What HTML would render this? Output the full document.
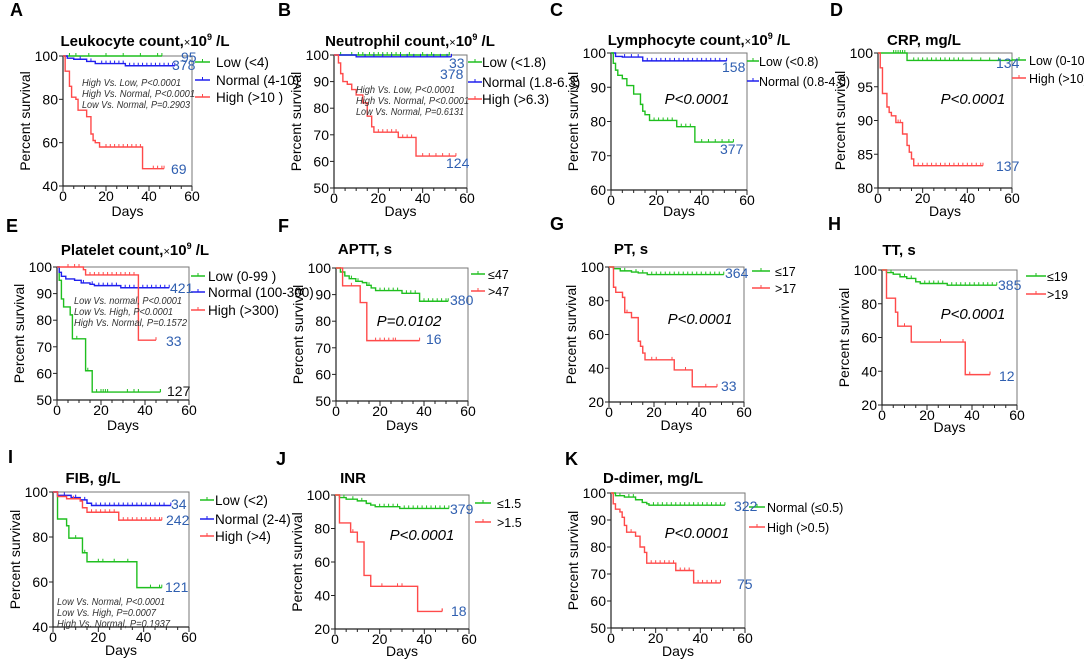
<!DOCTYPE html>
<html><head><meta charset="utf-8"><title>Kaplan-Meier survival curves</title>
<style>
html,body{margin:0;padding:0;background:#fff;}
svg{display:block;font-family:"Liberation Sans",Arial,sans-serif;}
</style></head>
<body>
<svg id="fig" width="1084" height="659" viewBox="0 0 1084 659" xmlns="http://www.w3.org/2000/svg"></svg>
<script>
// ===== DATA (time points, survival %, last follow-up, censor times) =====
const A_low_t=[0], A_low_s=[100], A_low_end=46, A_low_c=[3,6,12,20,28,36,44];
const A_norm_t=[0,2,5,11,15,29], A_norm_s=[100,99,98.5,97.5,96.5,95.5], A_norm_end=52, A_norm_c=[8,13,18,20,22,24,26,28,31,33,35,37,39,41,43,45,47,49,51];
const A_high_t=[0,1,3,4,6,7,11,13,14,15,17,37], A_high_s=[100,93,86,81,80,75,72,64,61,60,58,48], A_high_end=47, A_high_c=[20,22,24,26,28,30,32,34,36,42,44,46];

const B_low_t=[0], B_low_s=[100], B_low_end=52, B_low_c=[3,8,11,13,16,18,20,22,24,26,28,30,34,40,44];
const B_norm_t=[0,10], B_norm_s=[100,99.3], B_norm_end=53, B_norm_c=[14,18,22,26,30,33,36,39,42,45,48,51];
const B_high_t=[0,2,3,4,6,8,10,13,15,17,18,29,37], B_high_s=[100,97,93,90,89,87,85,82,77,73,71,69,62], B_high_end=55, B_high_c=[20,22,24,26,28,31,33,35,40,43,46,49,52];

const C_norm_t=[0,2,5,14], C_norm_s=[100,99,98.8,97.7], C_norm_end=51, C_norm_c=[6,9,12,16,18,20,22,24,26,28,30,32,34,36,38,40,42,44,46,48];
const C_low_t=[0,1,2,3,5,7,10,13,14,15,17,29,37], C_low_s=[100,97,95,93.5,92.5,90.5,88,85,83,82,80.3,78.5,74], C_low_end=54, C_low_c=[19,21,23,25,27,31,33,35,40,43,46,49,52];

const D_low_t=[0,13], D_low_s=[100,98.9], D_low_end=60, D_low_c=[7,8,9,10,11,12,16,18,20,22,24,26,28,30,32,34,36,38,42,46,50,54];
const D_high_t=[0,1,2,4,5,6,8,11,13,14,15,16], D_high_s=[100,97.8,94,92,91.2,90.7,89.7,88,86.3,85.3,84.3,83.3], D_high_end=47, D_high_c=[9,10,18,20,22,24,26,28,30,32,34,36,38,40,42,44,46];

const E_low_t=[0,1,2,3,6,7,13,16], E_low_s=[100,95,88,85,82,73,61,53], E_low_end=47, E_low_c=[9,14,18,20,21,22,23,32,35,37,47];
const E_norm_t=[0,1,2,4,8,11,15,17,29], E_norm_s=[100,98,96.5,95.5,95,94,93.5,93,92.2], E_norm_end=51, E_norm_c=[12,16,19,21,23,25,27,31,33,35,37,39,41,43,45,47,49];
const E_high_t=[0,12,13,37], E_high_s=[100,99,97,72.5], E_high_end=45, E_high_c=[5,8,10,15,17,19,21,23,25,27,29,31,33,35];

const F_low_t=[0,2,4,6,9,12,14,16,18,30,38], F_low_s=[100,98.5,97,96,95,94.5,93.5,92.5,91.5,90.5,87.5], F_low_end=51, F_low_c=[7,10,15,20,22,24,26,28,32,34,36,40,42,44,46,48,50];
const F_high_t=[0,3,11,14], F_high_s=[100,93.3,87,72.7], F_high_end=38, F_high_c=[7,11,18,20,22,24,26,27];

const G_low_t=[0,2,5,10,13,17], G_low_s=[100,99,97.7,97,96.5,95.5], G_low_end=51, G_low_c=[7,12,15,19,21,23,25,27,29,31,33,35,37,39,41,43,45,47,49];
const G_high_t=[0,2,3,6,7,10,13,14,15,16,29,37], G_high_s=[100,88,85,82,73,70,56,53,49,45,39,29], G_high_end=48, G_high_c=[8,19,21,28,34,43];

const H_low_t=[0,2,5,8,11,15,17,29], H_low_s=[100,98.5,97.5,96,95,93,92,91], H_low_end=51, H_low_c=[4,10,13,19,21,23,25,27,31,33,35,37,39,41,43,45,47,49];
const H_high_t=[0,2,6,7,13,37], H_high_s=[100,83.3,75,66.7,57.3,38], H_high_end=48, H_high_c=[10,26,36,39,48];

const I_low_t=[0,2,6,7,13,15,37], I_low_s=[100,88,85,79.5,73,69,57.5], I_low_end=48, I_low_c=[10,14,20,22,27,33,43,47];
const I_norm_t=[0,2,8,12,15,17], I_norm_s=[100,98.5,97.5,96.5,95,94], I_norm_end=52, I_norm_c=[5,10,14,19,21,23,25,27,29,31,33,35,37,39,41,43,45,47,49];
const I_high_t=[0,2,6,12,13,15,29], I_high_s=[100,98,97,96,93,91,87.5], I_high_end=48, I_high_c=[9,17,19,21,23,25,27,31,33,35,37,39,41,43,45,47];

const J_low_t=[0,2,5,10,14,16,18,29], J_low_s=[100,98.5,97.5,96.5,95,94,93,92], J_low_end=51, J_low_c=[4,8,12,20,22,24,26,28,31,33,35,37,39,41,43,45,47,49];
const J_high_t=[0,2,7,10,13,16,37], J_high_s=[100,83.3,77.8,72,52,45.5,30.5], J_high_end=48, J_high_c=[8,21,28,30,48];

const K_low_t=[0,2,6,11,14,16,17], K_low_s=[100,99,98.5,97.5,96.5,96,95.5], K_low_end=51, K_low_c=[4,8,10,19,21,23,25,27,29,31,33,35,37,39,41,43,45,47,49];
const K_high_t=[0,1,2,4,5,6,7,11,13,15,16,29,37], K_high_s=[100,96,94,93,91,88,85.5,84,80,78,74,71.3,66.7], K_high_end=49, K_high_c=[9,18,20,22,24,26,28,31,33,35,39,41,43,45,47];

// y-axis tick labels per panel
const yTicksA=[40,60,80,100], yTicksB=[50,60,70,80,90,100], yTicksC=[60,70,80,90,100], yTicksD=[80,85,90,95,100];
const yTicksE=[50,60,70,80,90,100], yTicksF=[50,60,70,80,90,100], yTicksG=[20,40,60,80,100], yTicksH=[20,40,60,80,100];
const yTicksI=[40,60,80,100], yTicksJ=[20,40,60,80,100], yTicksK=[50,60,70,80,90,100];
const xTicks=[0,20,40,60];

// ===== LAYOUT / STYLE =====
const GREEN='#1fbf1f', BLUE='#1f1fee', RED='#ff4a4a', NUMC='#2f5fb0';
const svg=document.getElementById('fig');
const NS='http://www.w3.org/2000/svg';
function mk(tag,attrs,parent){const e=document.createElementNS(NS,tag);for(const k in attrs)e.setAttribute(k,attrs[k]);(parent||svg).appendChild(e);return e;}
function txt(s,attrs,parent){const e=mk('text',attrs,parent);e.textContent=s;return e;}

const panels=[
 {id:'A',L:[10,16],x0:63,x1:192,yt:56,yb:186,ymin:40,ticks:yTicksA,title:'Leukocyte count,',tx:145,ty:46,days:216,
  series:[['low',GREEN,A_low_t,A_low_s,A_low_end,A_low_c],['normal',BLUE,A_norm_t,A_norm_s,A_norm_end,A_norm_c],['high',RED,A_high_t,A_high_s,A_high_end,A_high_c]],
  leg:{x:195,len:15,tx:216,ys:[62,80,97],labels:['Low (<4)','Normal  (4-10)','High (>10 )']},
  nums:[['95',181,62,NUMC],['378',172,70,NUMC],['69',171,174,NUMC]],
  stats:{x:82,ys:[86,97,108],lines:['High Vs. Low, P<0.0001','High Vs. Normal, P<0.0001','Low Vs. Normal, P=0.2903']}},
 {id:'B',L:[278,16],x0:334,x1:467,yt:55,yb:188,ymin:50,ticks:yTicksB,title:'Neutrophil count,',tx:410,ty:46,days:216,
  series:[['low',GREEN,B_low_t,B_low_s,B_low_end,B_low_c],['normal',BLUE,B_norm_t,B_norm_s,B_norm_end,B_norm_c],['high',RED,B_high_t,B_high_s,B_high_end,B_high_c]],
  leg:{x:468,len:14,tx:482,ys:[62,82,99],labels:['Low (<1.8)','Normal (1.8-6.3)','High (>6.3)']},
  nums:[['33',449,68,NUMC],['378',440,79,NUMC],['124',446,168,NUMC]],
  stats:{x:356,ys:[93,104,115],lines:['High Vs. Low, P<0.0001','High Vs. Normal, P<0.0001','Low Vs. Normal, P=0.6131']}},
 {id:'C',L:[550,16],x0:611,x1:747,yt:53,yb:190,ymin:60,ticks:yTicksC,title:'Lymphocyte count,',tx:699,ty:45,days:216,
  series:[['normal',BLUE,C_norm_t,C_norm_s,C_norm_end,C_norm_c],['low',GREEN,C_low_t,C_low_s,C_low_end,C_low_c]],
  leg:{x:747,len:12,tx:759,ys:[61,81],cols:[GREEN,BLUE],labels:['Low (<0.8)','Normal (0.8-4.0)'],small:true},
  nums:[['158',722,72,NUMC],['377',720,154,NUMC]],
  p:{x:697,y:104,t:'P<0.0001'}},
 {id:'D',L:[830,16],x0:878,x1:1012,yt:53,yb:188,ymin:80,ticks:yTicksD,title:'CRP, mg/L',tx:924,ty:45,days:216,
  series:[['low',GREEN,D_low_t,D_low_s,D_low_end,D_low_c],['high',RED,D_high_t,D_high_s,D_high_end,D_high_c]],
  leg:{x:1012,len:14,tx:1029,ys:[60,78],labels:['Low (0-10)','High (>10)'],small:true},
  nums:[['134',996,68,NUMC],['137',996,171,NUMC]],
  p:{x:973,y:104,t:'P<0.0001'}},
 {id:'E',L:[6,232],x0:57,x1:189,yt:267,yb:400,ymin:50,ticks:yTicksE,title:'Platelet count,',tx:135,ty:255,days:430,
  series:[['low',GREEN,E_low_t,E_low_s,E_low_end,E_low_c],['normal',BLUE,E_norm_t,E_norm_s,E_norm_end,E_norm_c],['high',RED,E_high_t,E_high_s,E_high_end,E_high_c]],
  leg:{x:191,len:14,tx:208,ys:[276,292,310],labels:['Low (0-99  )','Normal  (100-300)','High (>300)']},
  nums:[['421',170,293,NUMC],['33',166,346,NUMC],['127',167,396,'#111']],
  stats:{x:74,ys:[304,315,326],lines:['Low Vs. normal, P<0.0001','Low Vs. High, P<0.0001','High Vs. Normal, P=0.1572']}},
 {id:'F',L:[278,232],x0:336,x1:468,yt:268,yb:401,ymin:50,ticks:yTicksF,title:'APTT, s',tx:365,ty:254,days:430,
  series:[['le47',GREEN,F_low_t,F_low_s,F_low_end,F_low_c],['gt47',RED,F_high_t,F_high_s,F_high_end,F_high_c]],
  leg:{x:471,len:14,tx:488,ys:[274,291],labels:['≤47','>47'],small:true},
  nums:[['380',450,305,NUMC],['16',426,344,NUMC]],
  p:{x:409,y:326,t:'P=0.0102'}},
 {id:'G',L:[550,230],x0:609,x1:744,yt:267,yb:402,ymin:20,ticks:yTicksG,title:'PT, s',tx:631,ty:254,days:430,
  series:[['le17',GREEN,G_low_t,G_low_s,G_low_end,G_low_c],['gt17',RED,G_high_t,G_high_s,G_high_end,G_high_c]],
  leg:{x:752,len:18,tx:775,ys:[271,288],labels:['≤17','>17'],small:true},
  nums:[['364',725,278,NUMC],['33',721,391,NUMC]],
  p:{x:700,y:324,t:'P<0.0001'}},
 {id:'H',L:[828,230],x0:882,x1:1017,yt:270,yb:405,ymin:20,ticks:yTicksH,title:'TT, s',tx:899,ty:255,days:432,
  series:[['le19',GREEN,H_low_t,H_low_s,H_low_end,H_low_c],['gt19',RED,H_high_t,H_high_s,H_high_end,H_high_c]],
  leg:{x:1026,len:20,tx:1047,ys:[276,294],labels:['≤19','>19'],small:true},
  nums:[['385',998,290,NUMC],['12',999,381,NUMC]],
  p:{x:973,y:319,t:'P<0.0001'}},
 {id:'I',L:[8,463],x0:53,x1:189,yt:492,yb:627,ymin:40,ticks:yTicksI,title:'FIB, g/L',tx:93,ty:483,days:655,
  series:[['low',GREEN,I_low_t,I_low_s,I_low_end,I_low_c],['normal',BLUE,I_norm_t,I_norm_s,I_norm_end,I_norm_c],['high',RED,I_high_t,I_high_s,I_high_end,I_high_c]],
  leg:{x:200,len:14,tx:215,ys:[500,519,536],labels:['Low (<2)','Normal (2-4)','High (>4)']},
  nums:[['34',171,509,NUMC],['242',166,525,NUMC],['121',165,592,NUMC]],
  stats:{x:57,ys:[605,616,627],lines:['Low Vs. Normal, P<0.0001','Low Vs. High, P=0.0007','High Vs. Normal, P=0.1937']}},
 {id:'J',L:[276,465],x0:335,x1:469,yt:495,yb:629,ymin:20,ticks:yTicksJ,title:'INR',tx:353,ty:483,days:656,
  series:[['le15',GREEN,J_low_t,J_low_s,J_low_end,J_low_c],['gt15',RED,J_high_t,J_high_s,J_high_end,J_high_c]],
  leg:{x:475,len:16,tx:497,ys:[503,522],labels:['≤1.5','>1.5'],small:true},
  nums:[['379',450,514,NUMC],['18',451,616,NUMC]],
  p:{x:422,y:540,t:'P<0.0001'}},
 {id:'K',L:[565,465],x0:611,x1:745,yt:493,yb:628,ymin:50,ticks:yTicksK,title:'D-dimer, mg/L',tx:653,ty:483,days:656,
  series:[['normal',GREEN,K_low_t,K_low_s,K_low_end,K_low_c],['high',RED,K_high_t,K_high_s,K_high_end,K_high_c]],
  leg:{x:749,len:16,tx:767,ys:[507,527],labels:['Normal (≤0.5)','High (>0.5)'],small:true},
  nums:[['322',734,511,NUMC],['75',737,589,NUMC]],
  p:{x:697,y:538,t:'P<0.0001'}}
];

function stepVal(t,s,c){let v=s[0];for(let i=0;i<t.length;i++){if(t[i]<=c)v=s[i];}return v;}

panels.forEach(p=>{
  const g=mk('g',{});
  
  
  const X=t=>p.x0+(t/60)*(p.x1-p.x0);
  const Y=v=>p.yb-(v-p.ymin)/(100-p.ymin)*(p.yb-p.yt);
  const lab=txt(p.id,{x:p.L[0],y:p.L[1],'font-size':18,'font-weight':'bold'},g);
  
  
  const ti=txt('',{x:p.tx,y:p.ty,'font-size':15,'font-weight':'bold','text-anchor':'middle'},g);
  
  
  ti.appendChild(document.createTextNode(p.title));
  if(/count/.test(p.title)){
    const ts=document.createElementNS(NS,'tspan');ts.setAttribute('font-size','11');ts.setAttribute('font-weight','normal');ts.textContent='×';ti.appendChild(ts);
    const t2=document.createElementNS(NS,'tspan');t2.textContent='10';ti.appendChild(t2);
    const t3=document.createElementNS(NS,'tspan');t3.setAttribute('font-size','9');t3.setAttribute('dy','-6');t3.textContent='9';ti.appendChild(t3);
    const t4=document.createElementNS(NS,'tspan');t4.setAttribute('dy','6');t4.textContent=' /L';ti.appendChild(t4);
  }
  const box=mk('path',{d:`M${p.x0},${p.yt}H${p.x1}V${p.yb}H${p.x0}Z`,fill:'none',stroke:'#777','stroke-width':1},g);
  
  
  mk('line',{x1:p.x0,y1:p.yt,x2:p.x0,y2:p.yb,stroke:'#222','stroke-width':1.2},g);
  mk('line',{x1:p.x0,y1:p.yb,x2:p.x1,y2:p.yb,stroke:'#222','stroke-width':1.2},g);
  p.ticks.forEach(v=>{
    mk('line',{x1:p.x0-4,y1:Y(v),x2:p.x0,y2:Y(v),stroke:'#222'},g);
    const tl=txt(String(v),{x:p.x0-5,y:Y(v)+5,'font-size':14,'text-anchor':'end'},g);
    
    
  });
  for(let d=0;d<=60;d+=5){
    const major=d%20===0;
    mk('line',{x1:X(d),y1:p.yb,x2:X(d),y2:p.yb+(major?5:3),stroke:'#222'},g);
  }
  xTicks.forEach(d=>{
    const tl=txt(String(d),{x:X(d),y:p.yb+15,'font-size':14,'text-anchor':'middle'},g);
    
    
  });
  const ya=txt('Percent survival',{x:0,y:0,'font-size':14,'text-anchor':'middle',transform:`translate(${p.x0-33},${(p.yt+p.yb)/2}) rotate(-90)`},g);
  
  
  const xa=txt('Days',{x:(p.x0+p.x1)/2,y:p.days,'font-size':14,'text-anchor':'middle'},g);
  
  
  p.series.forEach(([nm,col,t,s,end,cens])=>{
    let d=`M${X(t[0])},${Y(s[0])}`;
    for(let i=1;i<t.length;i++){d+=`H${X(t[i])}V${Y(s[i])}`;}
    d+=`H${X(end)}`;
    const path=mk('path',{d:d,fill:'none',stroke:col,'stroke-width':1.4},g);
    
    
    cens.concat([end]).forEach(c=>{
      const v=stepVal(t,s,c);
      const tk=mk('line',{x1:X(c),y1:Y(v)-3,x2:X(c),y2:Y(v),stroke:col,'stroke-width':1},g);
      
      
    });
  });
  const lg=mk('g',{},g);
  
  
  p.leg.labels.forEach((l,i)=>{
    const col=p.leg.cols?p.leg.cols[i]:p.series[i][1];
    const y=p.leg.ys[i];
    mk('line',{x1:p.leg.x,y1:y,x2:p.leg.x+p.leg.len,y2:y,stroke:col,'stroke-width':1.5},lg);
    mk('line',{x1:p.leg.x+p.leg.len/2,y1:y-3,x2:p.leg.x+p.leg.len/2,y2:y,stroke:col},lg);
    const et=txt(l,{x:p.leg.tx,y:y+5,'font-size':p.leg.small?12.5:13.5},lg);
    
    
  });
  p.nums.forEach(([n,x,y,c])=>{
    const nt=txt(n,{x:x,y:y,'font-size':14,fill:c},g);
    
    
  });
  if(p.stats){p.stats.lines.forEach((l,i)=>{
    const st=txt(l,{x:p.stats.x,y:p.stats.ys[i],'font-size':10,'font-style':'italic',fill:'#333',textLength:Math.round(l.length*4.5),lengthAdjust:'spacingAndGlyphs'},g);
    
    
  });}
  if(p.p){
    const pt=txt(p.p.t,{x:p.p.x,y:p.p.y,'font-size':15,'font-style':'italic','text-anchor':'middle'},g);
    
    
  }
});
</script>
</body></html>
